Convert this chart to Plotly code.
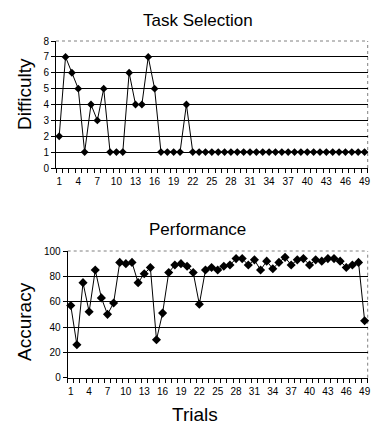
import plotly.graph_objects as go

trials = list(range(1, 50))
difficulty = [2, 7, 6, 5, 1, 4, 3, 5, 1, 1, 1, 6, 4, 4, 7, 5, 1, 1, 1, 1, 4] + [1] * 28
accuracy = [57, 26, 75, 52, 85, 63, 50, 59, 91, 90, 91, 75, 82, 87, 30, 51, 83, 89, 90, 88,
            83, 58, 85, 87, 85, 88, 89, 94, 94, 89, 93, 85, 92, 86, 91, 95, 89, 93, 94, 89,
            93, 92, 94, 94, 92, 87, 89, 91, 45]
x_ticks = list(range(1, 50, 3))
diff_ticks = list(range(0, 9))
acc_ticks = list(range(0, 101, 20))

FONT = "Liberation Sans, Arial, sans-serif"
OFF = 8  # default page body margin
W, H = 379 - OFF, 443 - OFF

fig = go.Figure()
fig.add_trace(go.Scatter(x=trials, y=difficulty, mode="lines+markers",
                         line=dict(color="black", width=1),
                         marker=dict(symbol="diamond", size=6, color="black"),
                         xaxis="x", yaxis="y", showlegend=False, cliponaxis=False))
fig.add_trace(go.Scatter(x=trials, y=accuracy, mode="lines+markers",
                         line=dict(color="black", width=1),
                         marker=dict(symbol="diamond", size=7, color="black"),
                         xaxis="x2", yaxis="y2", showlegend=False, cliponaxis=False))

top = dict(x0=56, x1=367.7, y0=41, y1=168)
bot = dict(x0=67.7, x1=367.7, y0=251, y1=377.7)

def px(v):
    return (v - OFF) / W

def py(v):
    return 1 - (v - OFF) / H

def dom(b):
    return [px(b["x0"]), px(b["x1"])], [py(b["y1"]), py(b["y0"])]

tx, ty = dom(top)
bx, by = dom(bot)

xcommon = dict(range=[0.5, 49.5], tickvals=x_ticks, ticks="outside", ticklen=0,
               showgrid=False, zeroline=False, showline=True, linecolor="black", linewidth=1,
               automargin=False, ticklabelstandoff=4,
               tickfont=dict(family=FONT, size=10, color="black"),
               minor=dict(tick0=0.5, dtick=1, ticks="outside", ticklen=4, tickcolor="black"))
ycommon = dict(ticks="outside", ticklen=4, tickcolor="black", showgrid=True, gridcolor="black",
               gridwidth=1, zeroline=False, showline=True, linecolor="black", automargin=False,
               tickfont=dict(family=FONT, size=10, color="black"))

fig.update_layout(
    width=W, height=H, margin=dict(l=0, r=0, t=0, b=0),
    paper_bgcolor="white", plot_bgcolor="white",
    font=dict(family=FONT, color="black"),
    xaxis=dict(domain=tx, anchor="y", **xcommon),
    yaxis=dict(domain=ty, anchor="x", range=[0, 8], tickvals=diff_ticks, **ycommon),
    xaxis2=dict(domain=bx, anchor="y2", **xcommon),
    yaxis2=dict(domain=by, anchor="x2", range=[0, 100], tickvals=acc_ticks, **ycommon),
)

shapes = []
for b in (top, bot):
    x0, x1 = px(b["x0"]), px(b["x1"])
    y0, y1 = py(b["y1"]), py(b["y0"])
    shapes.append(dict(type="line", xref="paper", yref="paper", x0=x0 + 0.002, x1=x1, y0=y1, y1=y1,
                       line=dict(color="white", width=1.5), layer="below"))
    shapes.append(dict(type="line", xref="paper", yref="paper", x0=x0, x1=x1, y0=y1, y1=y1,
                       line=dict(color="#808080", width=1, dash="dot"), layer="below"))
    shapes.append(dict(type="line", xref="paper", yref="paper", x0=x1, x1=x1, y0=y0, y1=y1,
                       line=dict(color="#808080", width=1, dash="dot"), layer="below"))
fig.update_layout(shapes=shapes)

def ann(text, xpx, ypx, size, angle=0):
    fig.add_annotation(text=text, x=px(xpx), y=py(ypx), xref="paper", yref="paper",
                       showarrow=False, font=dict(family=FONT, size=size, color="black"),
                       xanchor="center", yanchor="middle", textangle=angle)

ann("Task Selection", 198, 20, 17)
ann("Performance", 197, 229, 17)
ann("Trials", 195, 414, 19)
ann("Difficulty", 24, 94, 19, -90)
ann("Accuracy", 24, 322, 19, -90)

fig.write_html("out.html")
